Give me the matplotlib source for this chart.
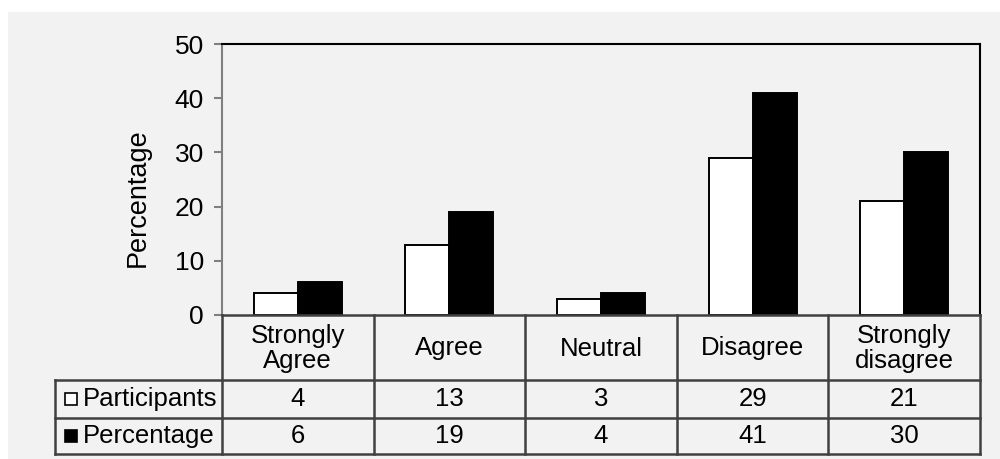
import matplotlib
matplotlib.use('Agg')
import matplotlib.pyplot as plt
from matplotlib.patches import Rectangle

# responses per category
categories = ["Strongly\nAgree", "Agree", "Neutral", "Disagree", "Strongly\ndisagree"]
participants = [4, 13, 3, 29, 21]
percentage = [6, 19, 4, 41, 30]
series_names = ["Participants", "Percentage"]
series_colors = ["white", "black"]
yticks = [0, 10, 20, 30, 40, 50]

plt.rcParams['font.family'] = ['Liberation Sans', 'DejaVu Sans']
FS = 18.5
GRID = '#404040'
BG = '#f2f2f2'

W, H = 1000, 459
fig = plt.figure(figsize=(W / 100, H / 100), dpi=100)
fig.patch.set_facecolor('white')
# gray chart area
fig.add_artist(Rectangle((8 / W, 0), 1, 1 - 12 / H, transform=fig.transFigure,
                         facecolor=BG, edgecolor='none', zorder=-10))


def fx(px):
    return px / W


def fy(py):
    return 1 - py / H


x0, x1 = 222, 980
y_top, y_zero = 44, 315
ax = fig.add_axes([fx(x0), fy(y_zero), fx(x1 - x0), (y_zero - y_top) / H])
ax.set_facecolor(BG)

n = len(categories)
xs = list(range(n))
bw = 0.29
ax.bar([x - bw / 2 for x in xs], participants, width=bw, color=series_colors[0],
       edgecolor='black', linewidth=1.4, zorder=3)
ax.bar([x + bw / 2 for x in xs], percentage, width=bw, color=series_colors[1],
       edgecolor='black', linewidth=1.4, zorder=3)

ax.set_xlim(-0.5, n - 0.5)
ax.set_ylim(0, 50)
ax.set_yticks(yticks)
ax.set_yticklabels([str(t) for t in yticks], fontsize=19)
ax.set_xticks([])
ax.tick_params(axis='y', direction='out', length=6, width=1.5, color='#808080', pad=7)
ax.spines['left'].set_color('#808080')
ax.spines['left'].set_linewidth(1.5)
ax.spines['top'].set_color('black')
ax.spines['right'].set_color('black')
ax.spines['top'].set_linewidth(1.5)
ax.spines['right'].set_linewidth(1.5)
ax.spines['bottom'].set_visible(False)
ax.set_ylabel("Percentage", fontsize=19.5)
ax.yaxis.set_label_coords((138 - x0) / (x1 - x0), (y_zero - 198) / (y_zero - y_top))
ax.yaxis.label.set_va('center')

# data table below the plot
col_w = (x1 - x0) / n
tab_left = 55
row_edges = [315, 380, 418, 454]
tab = fig.add_axes([0, 0, 1, 1])
tab.set_xlim(0, W)
tab.set_ylim(H, 0)
tab.axis('off')
tab.patch.set_alpha(0)

lw = 1.8
# horizontal lines
tab.plot([x0, x1], [row_edges[0]] * 2, color=GRID, lw=lw)
for ry in row_edges[1:]:
    tab.plot([tab_left, x1], [ry, ry], color=GRID, lw=lw)
# vertical lines
tab.plot([tab_left, tab_left], [row_edges[1], row_edges[3]], color=GRID, lw=lw)
for i in range(n + 1):
    cx = x0 + i * col_w
    tab.plot([cx, cx], [row_edges[0], row_edges[3]], color=GRID, lw=lw)

for i, cat in enumerate(categories):
    cx = x0 + (i + 0.5) * col_w
    tab.text(cx, (row_edges[0] + row_edges[1]) / 2 + 1, cat, ha='center', va='center',
             fontsize=FS, linespacing=1.05)
    for r, vals in enumerate([participants, percentage]):
        cy = (row_edges[r + 1] + row_edges[r + 2]) / 2
        tab.text(cx, cy, str(vals[i]), ha='center', va='center', fontsize=FS)

for r, (name, col) in enumerate(zip(series_names, series_colors)):
    cy = (row_edges[r + 1] + row_edges[r + 2]) / 2
    tab.add_patch(Rectangle((65, cy - 6), 12, 12, facecolor=col, edgecolor='black', lw=1.2))
    tab.text(83, cy, name, ha='left', va='center', fontsize=FS)

plt.savefig('out.png', dpi=100, facecolor=fig.get_facecolor())
